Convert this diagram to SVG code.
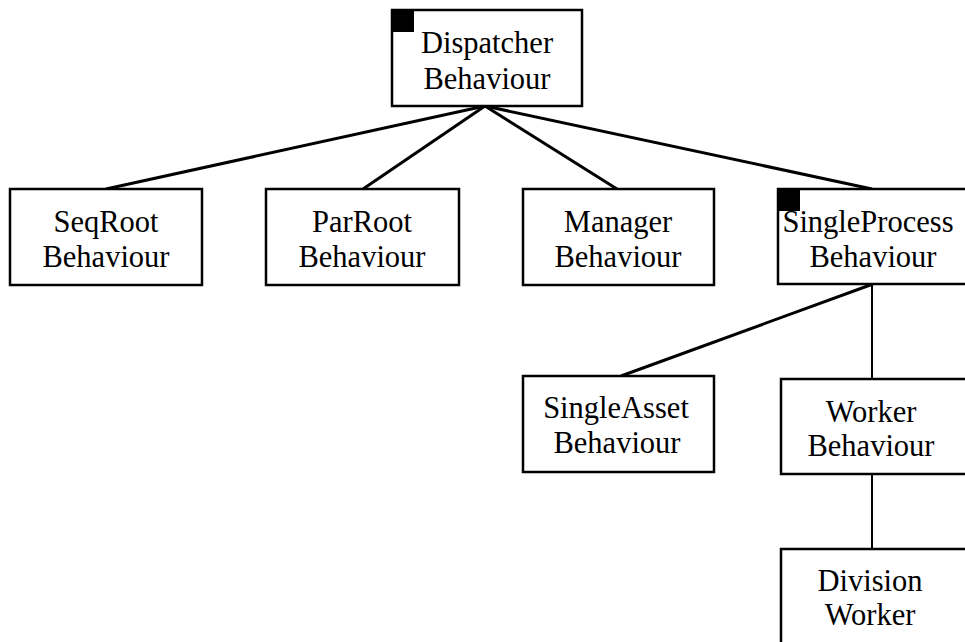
<svg xmlns="http://www.w3.org/2000/svg" width="965" height="642" viewBox="0 0 965 642">
<style>
.box{fill:#fff;stroke:#000;stroke-width:2.5}
.mark{fill:#000}
.lbl{font-family:"Liberation Serif","Times New Roman",serif;font-size:30.5px;fill:#000;text-anchor:middle}
.con{stroke:#000;stroke-width:3;fill:none}
.con2{stroke:#000;stroke-width:2;fill:none}
</style>
<rect width="965" height="642" fill="#fff"/>
<g id="connectors">
<line class="con" x1="485" y1="106" x2="106" y2="189"/>
<line class="con" x1="485" y1="106" x2="363" y2="189"/>
<line class="con" x1="485" y1="106" x2="617" y2="189"/>
<line class="con" x1="485" y1="106" x2="872" y2="189"/>
<line class="con" x1="873" y1="284" x2="621" y2="376"/>
<line class="con2" x1="872" y1="284" x2="872" y2="379"/>
<line class="con2" x1="872" y1="474" x2="872" y2="549"/>
</g>
<g id="dispatcher">
<rect class="box" x="392" y="10" width="190" height="96"/>
<rect class="mark" x="392" y="10" width="22" height="22"/>
<text class="lbl" x="487" y="53">Dispatcher</text>
<text class="lbl" x="487" y="89">Behaviour</text>
</g>
<g id="seqroot">
<rect class="box" x="10" y="189" width="192" height="96"/>
<text class="lbl" x="106" y="232">SeqRoot</text>
<text class="lbl" x="106" y="267">Behaviour</text>
</g>
<g id="parroot">
<rect class="box" x="266" y="189" width="193" height="96"/>
<text class="lbl" x="362" y="232">ParRoot</text>
<text class="lbl" x="362" y="267">Behaviour</text>
</g>
<g id="manager">
<rect class="box" x="523" y="189" width="191" height="96"/>
<text class="lbl" x="618" y="232">Manager</text>
<text class="lbl" x="618" y="267">Behaviour</text>
</g>
<g id="singleprocess">
<rect class="box" x="778" y="189" width="192" height="95"/>
<rect class="mark" x="778" y="189" width="22" height="22"/>
<text class="lbl" x="868" y="232">SingleProcess</text>
<text class="lbl" x="873" y="267">Behaviour</text>
</g>
<g id="singleasset">
<rect class="box" x="523" y="376" width="191" height="96"/>
<text class="lbl" x="616" y="418">SingleAsset</text>
<text class="lbl" x="617" y="453">Behaviour</text>
</g>
<g id="worker">
<rect class="box" x="781" y="379" width="190" height="95"/>
<text class="lbl" x="871" y="422">Worker</text>
<text class="lbl" x="871" y="456">Behaviour</text>
</g>
<g id="division">
<rect class="box" x="781" y="549" width="190" height="100"/>
<text class="lbl" x="870" y="591">Division</text>
<text class="lbl" x="870" y="625">Worker</text>
</g>
</svg>
